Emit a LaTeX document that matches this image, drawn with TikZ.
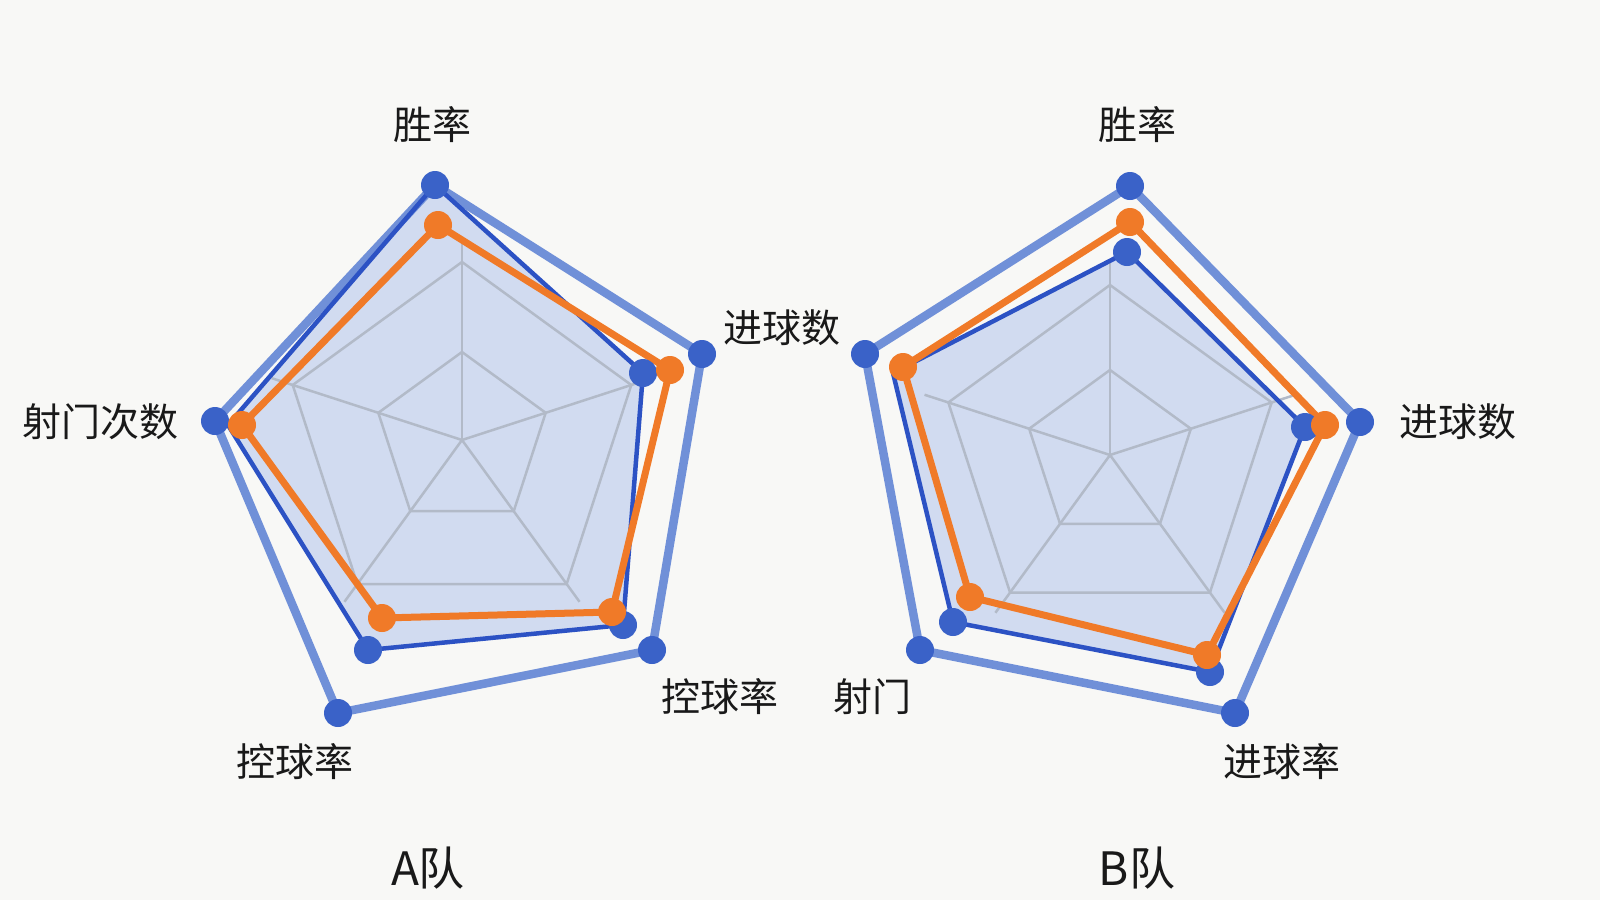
\documentclass[tikz,border=0pt]{standalone}
\usepackage{fontspec}
\newfontfamily\cjk{Noto Sans CJK SC}
\definecolor{bgc}{RGB}{248,248,246}
\definecolor{outc}{RGB}{112,144,216}
\definecolor{innc}{RGB}{44,82,196}
\definecolor{orc}{RGB}{240,122,40}
\definecolor{fillc}{RGB}{196,210,238}
\definecolor{gridc}{RGB}{178,186,200}
\definecolor{dotc}{RGB}{58,98,200}
\definecolor{txtc}{RGB}{25,25,25}
\begin{document}
\begin{tikzpicture}[x=1pt,y=-1pt,
  outerline/.style={draw=outc, line width=8.5pt, line join=round},
  innerline/.style={draw=innc, line width=4.5pt, line join=round},
  orangeline/.style={draw=orc, line width=7pt, line join=round},
  fillpoly/.style={fill=fillc, fill opacity=0.75},
  gridline/.style={draw=gridc, line width=2.5pt},
  bdot/.style={circle, fill=dotc, inner sep=0pt, minimum size=28pt},
  odot/.style={circle, fill=orc, inner sep=0pt, minimum size=28pt},
  lab/.style={font=\cjk\fontsize{39}{44}\selectfont, text=txtc},
  title/.style={font=\cjk\fontsize{46}{50}\selectfont, text=txtc}]
\fill[bgc] (0,0) rectangle (1600,900);
\useasboundingbox (0,0) rectangle (1600,900);

% ===== Left chart =====
\fill[fillpoly] (435,185) -- (643,373) -- (623,625) -- (368,650) -- (228,425) -- cycle;
\begin{scope}[shift={(462,440)}]
  \foreach \r in {88,178}{
    \draw[gridline] (-90:\r) -- (-18:\r) -- (54:\r) -- (126:\r) -- (198:\r) -- cycle;
  }
  \foreach \a in {-90,-18,54,126,198}{ \draw[gridline] (0,0) -- (\a:200); }
\end{scope}
\draw[outerline] (435,185) -- (702,354) -- (652,650) -- (338,713) -- (215,421) -- cycle;
\draw[innerline] (435,185) -- (643,373) -- (623,625) -- (368,650) -- (228,425) -- cycle;
\draw[orangeline] (438,225) -- (670,370) -- (612,612) -- (382,618) -- (242,425) -- cycle;
\foreach \p/\n in {{435,185}/a1,{702,354}/a2,{652,650}/a3,{338,713}/a4,{215,421}/a5,{643,373}/b2,{623,625}/b3,{368,650}/b4}
  \node[bdot] (\n) at (\p) {};
\foreach \p/\n in {{438,225}/o1,{670,370}/o2,{612,612}/o3,{382,618}/o4,{242,425}/o5}
  \node[odot] (\n) at (\p) {};
\node[lab] (l1) at (432,125) {胜率};
\node[lab] (l2) at (782,328) {进球数};
\node[lab] (l3) at (100,422) {射门次数};
\node[lab] (l4) at (720,697) {控球率};
\node[lab] (l5) at (295,762) {控球率};
\node[title] (t1) at (428,868) {A队};

% ===== Right chart =====
\fill[fillpoly] (1127,252) -- (1305,427) -- (1210,672) -- (953,622) -- (893,373) -- cycle;
\begin{scope}[shift={(1110,455)}]
  \foreach \r in {85,170}{
    \draw[gridline] (-90:\r) -- (-18:\r) -- (54:\r) -- (126:\r) -- (198:\r) -- cycle;
  }
  \foreach \a in {-90,-18,54,126,198}{ \draw[gridline] (0,0) -- (\a:195); }
\end{scope}
\draw[outerline] (1130,186) -- (1360,422) -- (1235,713) -- (920,650) -- (865,354) -- cycle;
\draw[innerline] (1127,252) -- (1305,427) -- (1210,672) -- (953,622) -- (893,373) -- cycle;
\draw[orangeline] (1130,222) -- (1325,425) -- (1207,655) -- (970,597) -- (903,367) -- cycle;
\foreach \p/\n in {{1130,186}/c1,{1360,422}/c2,{1235,713}/c3,{920,650}/c4,{865,354}/c5,{1127,252}/d1,{1305,427}/d2,{1210,672}/d3,{953,622}/d4}
  \node[bdot] (\n) at (\p) {};
\foreach \p/\n in {{1130,222}/p1,{1325,425}/p2,{1207,655}/p3,{970,597}/p4,{903,367}/p5}
  \node[odot] (\n) at (\p) {};
\node[lab] (r1) at (1137,125) {胜率};
\node[lab] (r2) at (1458,422) {进球数};
\node[lab] (r3) at (872,697) {射门};
\node[lab] (r4) at (1282,762) {进球率};
\node[title] (t2) at (1137,868) {B队};
\end{tikzpicture}
\end{document}
